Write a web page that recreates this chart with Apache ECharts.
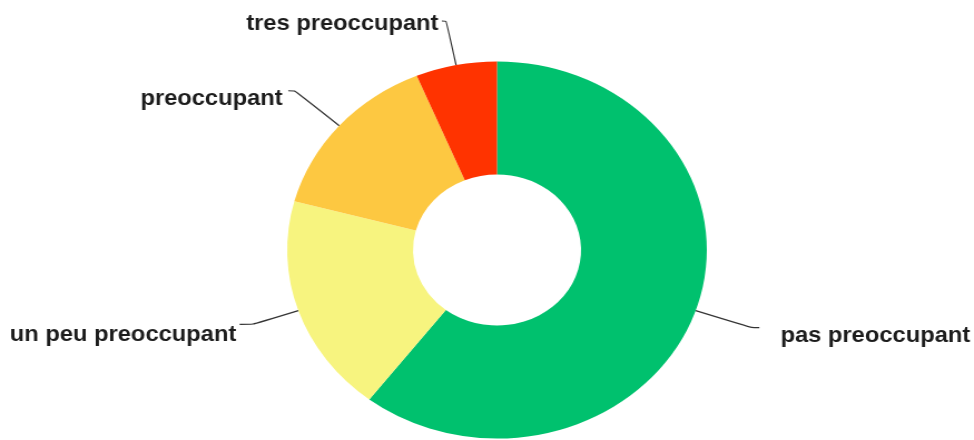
<!DOCTYPE html>
<html>
<head>
<meta charset="utf-8">
<script src="https://cdn.jsdelivr.net/npm/echarts@6/dist/echarts.min.js"></script>
<style>
  html, body { margin: 0; padding: 0; background: #fff; overflow: hidden; }
  #wrap { width: 974px; height: 440px; overflow: hidden; }
  #chart { width: 875px; height: 440px; transform: scaleX(1.1131); transform-origin: 0 0; }
</style>
</head>
<body>
<div id="wrap"><div id="chart"></div></div>
<script>
// Data
const categories = ['pas preoccupant', 'un peu preoccupant', 'preoccupant', 'tres preoccupant'];
const values = [29, 9, 7, 3];
const colors = ['#00c16e', '#f7f47f', '#fdc841', '#ff3300'];

// Per-label layout tweaks (style only)
const labelTweaks = {
  'pas preoccupant':    { length: 53, length2: 7,  dist: 19, shift: 8 },
  'un peu preoccupant': { length: 43, length2: 12, dist: 3,  shift: 11 },
  'preoccupant':        { length: 53, length2: 6,  dist: 5,  shift: 8 },
  'tres preoccupant':   { length: 45, length2: 4,  dist: 3,  shift: 3 }
};

const chart = echarts.init(document.getElementById('chart'));
const seriesData = categories.map((name, i) => {
  const t = labelTweaks[name];
  return {
    name: name,
    value: values[i],
    itemStyle: { color: colors[i] },
    label: {
      distanceToLabelLine: t.dist,
      formatter: '{t|{b}}',
      rich: { t: { padding: [t.shift * 2, 0, 0, 0] } }
    },
    labelLine: { length: t.length, length2: t.length2 }
  };
});

chart.setOption({
  animation: false,
  series: [{
    type: 'pie',
    center: [446.5, 250],
    radius: [75.5, 188.5],
    startAngle: 90,
    clockwise: true,
    avoidLabelOverlap: false,
    silent: true,
    label: {
      show: true,
      position: 'outside',
      color: '#1c1c1c',
      fontFamily: 'Liberation Sans',
      fontWeight: 'bold',
      fontSize: 21.3,
      overflow: 'none',
      bleedMargin: 0,
      rich: { t: {} }
    },
    labelLine: {
      show: true,
      smooth: 0.2,
      lineStyle: { color: '#333', width: 1.2 }
    },
    itemStyle: { borderWidth: 0 },
    data: seriesData
  }]
});
</script>
</body>
</html>
